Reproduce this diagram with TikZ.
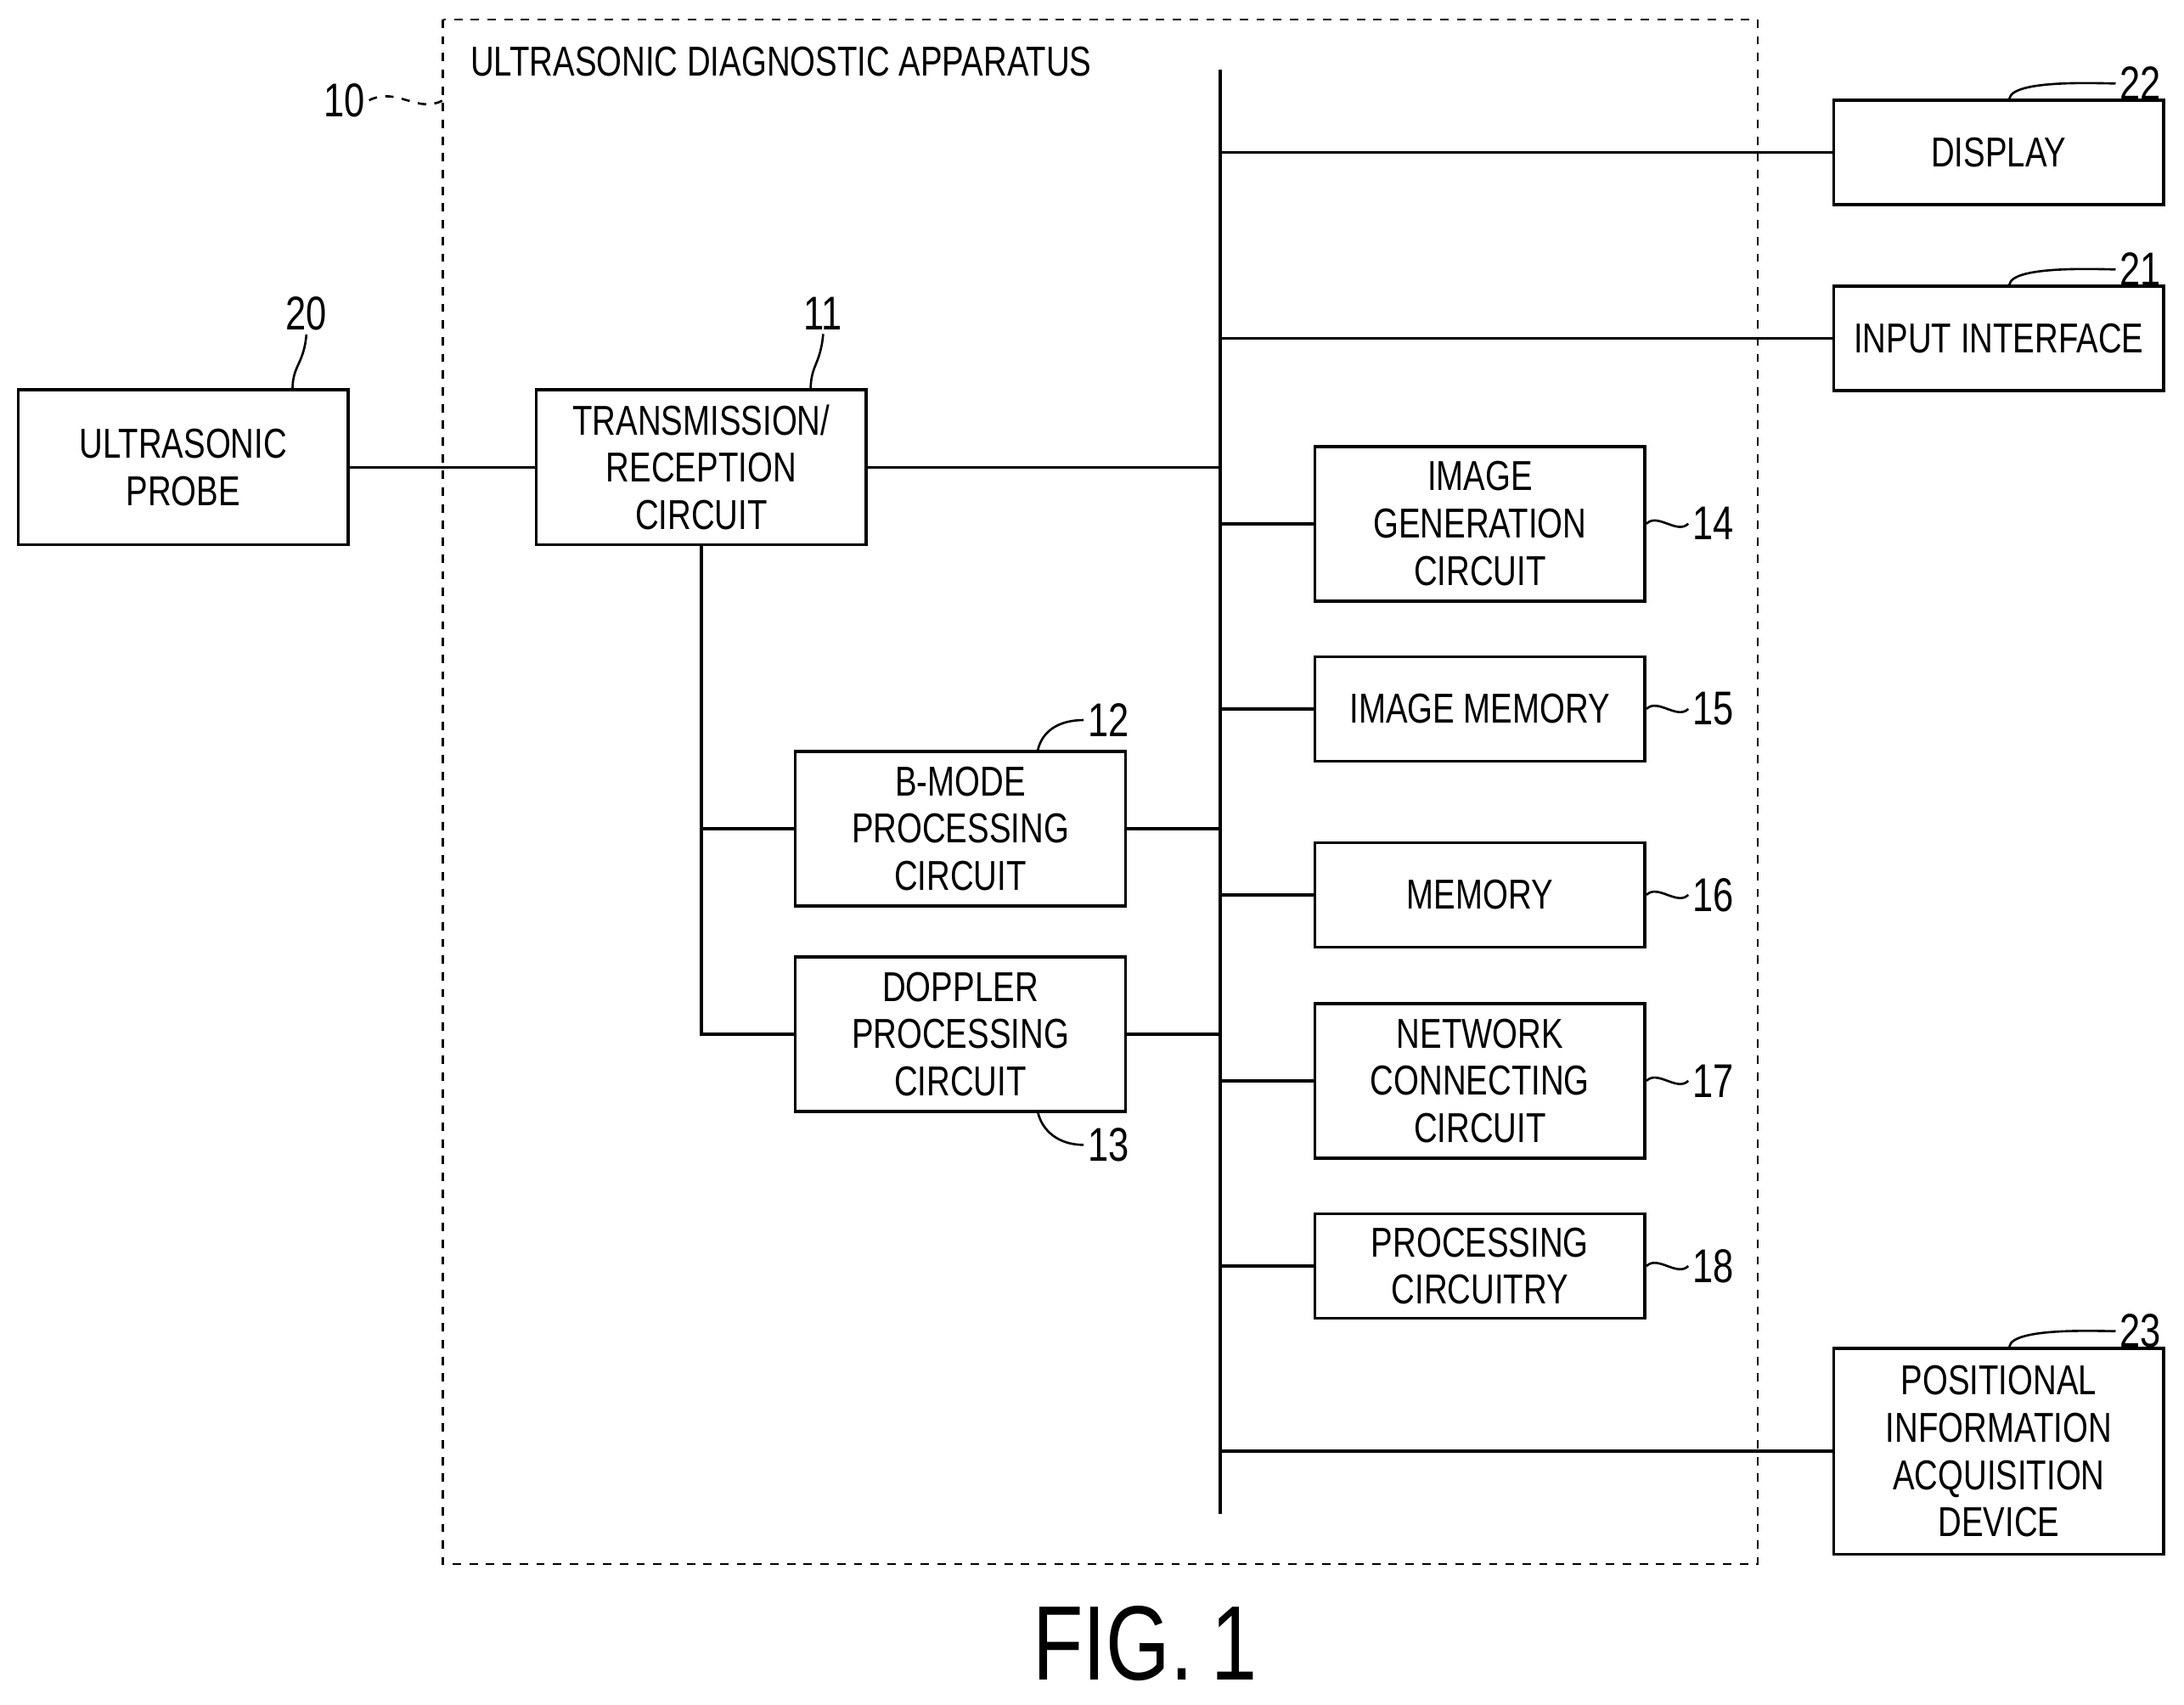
\documentclass[tikz,border=0pt]{standalone}
\usepackage{fontspec}
\setmainfont{Liberation Sans}[FakeStretch=0.78]
\usetikzlibrary{positioning}
\begin{document}
\begin{tikzpicture}[x=0.5pt,y=0.5pt,yscale=-1,line width=1.1pt,
  box/.style={draw,minimum width=118.5pt,align=center,font=\fontsize{15}{17}\selectfont,inner sep=1pt},
  tall/.style={box,minimum height=55.5pt},
  short/.style={box,minimum height=37.5pt},
  num/.style={font=\fontsize{17}{19}\selectfont,inner sep=1pt},
  lead/.style={line width=0.8pt}]
\useasboundingbox (0,0) rectangle (1568,1224);

% frame of the apparatus
\draw[dashed,line width=0.8pt] (318,14) rectangle (1262,1123);
\node[anchor=west,font=\fontsize{15}{17}\selectfont] (title) at (330,44) {ULTRASONIC DIAGNOSTIC APPARATUS};
\node[num,anchor=east] (l10) at (265,72) {10};
\draw[lead,dashed] (l10.east) .. controls (285,62) and (300,82) .. (318,72);

% bus
\coordinate (bt) at (876,50);
\coordinate (bb) at (876,1087);
\draw (bt) -- (bb);

% boxes
\node[tall] (probe) at (131.5,335.5) {ULTRASONIC\\PROBE};
\node[tall] (trx) at (503.5,335.5) {TRANSMISSION/\\RECEPTION\\CIRCUIT};
\node[tall] (bmode) at (689.5,595) {B-MODE\\PROCESSING\\CIRCUIT};
\node[tall] (dop) at (689.5,742.5) {DOPPLER\\PROCESSING\\CIRCUIT};
\node[tall] (imgen) at (1062.5,376) {IMAGE\\GENERATION\\CIRCUIT};
\node[short] (imem) at (1062.5,509) {IMAGE MEMORY};
\node[short] (mem) at (1062.5,642.5) {MEMORY};
\node[tall] (net) at (1062.5,776) {NETWORK\\CONNECTING\\CIRCUIT};
\node[short] (proc) at (1062.5,909) {PROCESSING\\CIRCUITRY};
\node[short] (disp) at (1435,109.5) {DISPLAY};
\node[short] (inp) at (1435,243) {INPUT INTERFACE};
\node[box,minimum height=74pt] (pos) at (1435,1042) {POSITIONAL\\INFORMATION\\ACQUISITION\\DEVICE};

% connectors
\draw (probe) -- (trx);
\draw (trx.east) -- (trx.east -| bt);
\coordinate (tb) at (trx.south);
\draw (tb) -- (tb |- dop.west) -- (dop.west);
\draw (tb |- bmode.west) -- (bmode.west);
\draw (bmode.east) -- (bmode.east -| bt);
\draw (dop.east) -- (dop.east -| bt);
\foreach \n in {imgen,imem,mem,net,proc}
  \draw (\n.west) -- (\n.west -| bt);
\foreach \n in {disp,inp,pos}
  \draw (\n.west) -- (\n.west -| bt);

% reference numerals
\node[num] (l20) at (220,225) {20};
\draw[lead] (l20.south) .. controls (218,262) and (210,262) .. (210,280);
\node[num] (l11) at (591,225) {11};
\draw[lead] (l11.south) .. controls (589,262) and (582,262) .. (582,280);
\node[num,anchor=west] (l12) at (778,517) {12};
\draw[lead] (745,539) .. controls (748,525) and (760,517) .. (l12.west);
\node[num,anchor=west] (l13) at (778,822) {13};
\draw[lead] (745,798) .. controls (748,812) and (760,822) .. (l13.west);
\foreach \n/\t in {imgen/14,imem/15,mem/16,net/17,proc/18}{
  \node[num,anchor=west] (l\t) at ([xshift=15pt]\n.east) {\t};
  \draw[lead] (\n.east) .. controls +(8,-8) and +(-8,8) .. (l\t.west);
}
\foreach \n/\t in {disp/22,inp/21,pos/23}{
  \node[num,anchor=south east] (l\t) at ([yshift=2pt]\n.north east) {\t};
  \draw[lead] ([xshift=-56]\n.north east) .. controls +(2,-14) and +(-12,0) .. (l\t.west);
}

\node[font=\fontsize{38}{42}\selectfont] (fig) at (822,1180) {FIG.\,1};
\end{tikzpicture}
\end{document}
